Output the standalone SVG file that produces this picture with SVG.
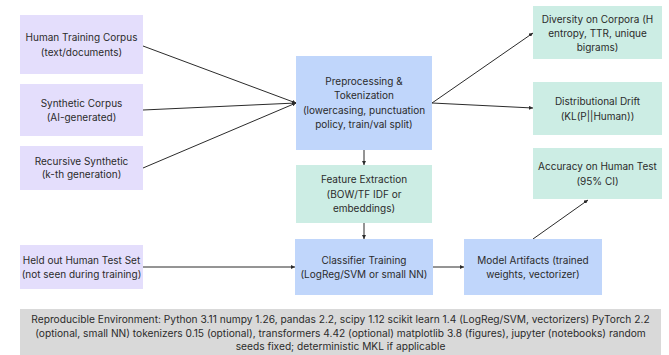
<svg xmlns="http://www.w3.org/2000/svg" width="669" height="355" viewBox="0 0 669 355">
<style>
text{font-family:Inter,"Liberation Sans",sans-serif;font-size:10px;fill:#2b2b2b;text-anchor:middle}
.src{fill:#e4defc}
.blue{fill:#c0d6fb}
.mint{fill:#ccede4}
.env{fill:#d9d9d9}
.envt{font-size:10.2px}
.c line{stroke:#2b2b2b;stroke-width:1;fill:none;marker-end:url(#ah)}
</style>
<defs>
<marker id="ah" viewBox="0 0 8 8" refX="8" refY="4" markerWidth="4" markerHeight="4" orient="auto" markerUnits="userSpaceOnUse">
<path d="M0,0L8,4L0,8z" fill="#2b2b2b"/>
</marker>
</defs>
<rect width="669" height="355" fill="#fff"/>
<g class="c">
<line x1="143" y1="46" x2="296" y2="103"/>
<line x1="143" y1="110" x2="296" y2="103"/>
<line x1="143" y1="168" x2="296" y2="103"/>
<line x1="432" y1="103" x2="533" y2="33"/>
<line x1="432" y1="103" x2="533" y2="108"/>
<line x1="364" y1="150" x2="364" y2="165"/>
<line x1="364" y1="223" x2="364" y2="239"/>
<line x1="143" y1="267" x2="295" y2="267"/>
<line x1="433" y1="267" x2="464" y2="267"/>
<line x1="533" y1="239" x2="588" y2="200"/>
</g>
<g id="human"><rect class="src" x="20" y="15" width="123" height="59"/><text x="81.5" y="41">Human Training Corpus<tspan x="81.5" y="56">(text/documents)</tspan></text></g>
<g id="synthetic"><rect class="src" x="20" y="84" width="123" height="52"/><text x="81.5" y="107">Synthetic Corpus<tspan x="81.5" y="121">(AI-generated)</tspan></text></g>
<g id="recursive"><rect class="src" x="20" y="146" width="123" height="44"/><text x="81.5" y="164.5">Recursive Synthetic<tspan x="81.5" y="178">(k-th generation)</tspan></text></g>
<g id="heldout"><rect class="src" x="20" y="245" width="123" height="44"/><text x="81.5" y="264">Held out Human Test Set<tspan x="81.5" y="277.5">(not seen during training)</tspan></text></g>
<g id="preprocess"><rect class="blue" x="296" y="56" width="136" height="94"/><text x="364" y="85">Preprocessing &amp;<tspan x="364" y="99">Tokenization</tspan><tspan x="364" y="113.5">(lowercasing, punctuation</tspan><tspan x="364" y="127.5">policy, train/val split)</tspan></text></g>
<g id="feature"><rect class="mint" x="296" y="165" width="136" height="58"/><text x="364" y="183">Feature Extraction<tspan x="364" y="197.5">(BOW/TF IDF or</tspan><tspan x="364" y="212">embeddings)</tspan></text></g>
<g id="classifier"><rect class="blue" x="295" y="239" width="138" height="56"/><text x="364" y="264">Classifier Training<tspan x="364" y="278">(LogReg/SVM or small NN)</tspan></text></g>
<g id="artifacts"><rect class="blue" x="464" y="239" width="138" height="56"/><text x="533" y="264">Model Artifacts (trained<tspan x="533" y="278">weights, vectorizer)</tspan></text></g>
<g id="diversity"><rect class="mint" x="533" y="6" width="129" height="53"/><text x="597.5" y="22.5">Diversity on Corpora (H<tspan x="597.5" y="37">entropy, TTR, unique</tspan><tspan x="597.5" y="51">bigrams)</tspan></text></g>
<g id="drift"><rect class="mint" x="533" y="82" width="129" height="53"/><text x="597.5" y="105">Distributional Drift<tspan x="597.5" y="119.5">(KL(P||Human))</tspan></text></g>
<g id="accuracy"><rect class="mint" x="533" y="148" width="129" height="51"/><text x="597.5" y="170">Accuracy on Human Test<tspan x="597.5" y="185">(95% CI)</tspan></text></g>
<g id="environment"><rect class="env" x="20" y="309" width="641" height="46"/><text class="envt" x="340.5" y="323">Reproducible Environment: Python 3.11 numpy 1.26, pandas 2.2, scipy 1.12 scikit learn 1.4 (LogReg/SVM, vectorizers) PyTorch 2.2<tspan x="340.5" y="336.5">(optional, small NN) tokenizers 0.15 (optional), transformers 4.42 (optional) matplotlib 3.8 (figures), jupyter (notebooks) random</tspan><tspan x="340.5" y="350">seeds fixed; deterministic MKL if applicable</tspan></text></g>
</svg>
